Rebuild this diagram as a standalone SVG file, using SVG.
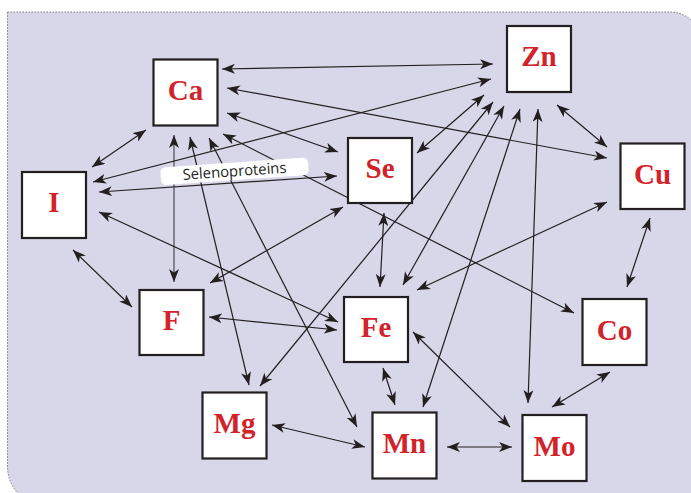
<svg xmlns="http://www.w3.org/2000/svg" width="691" height="493" viewBox="0 0 691 493">
<defs>
<marker id="ah" viewBox="0 0 13 10" refX="13" refY="5" markerWidth="13" markerHeight="10" markerUnits="userSpaceOnUse" orient="auto-start-reverse">
<path d="M0,0 L13,5 L0,10 L3.5,5 Z" fill="#231f20"/>
</marker>
<style>
.bg{fill:#d8d6e9;stroke:#7a7a80;stroke-width:1;stroke-dasharray:1.5 1.5}
.box{fill:#ffffff;stroke:#231f20;stroke-width:2.2}
.lbl{font-family:"Liberation Serif","Times New Roman",serif;font-weight:bold;font-size:29px;fill:#d2232a;text-anchor:middle}
.c line{stroke:#231f20;stroke-width:1.2;marker-start:url(#ah);marker-end:url(#ah)}
.c line.g{stroke:#6d6e71;stroke-width:1.6}
.tag{fill:#ffffff}
.tagt{font-family:"Open Sans","Liberation Sans",Arial,sans-serif;font-size:15px;fill:#231f20;text-anchor:middle}
</style>
</defs>
<path class="bg" d="M7.5,12 H670 A32,32 0 0 1 702,44 V505 H45.5 A38,38 0 0 1 7.5,467 Z"/>
<g id="connectors" class="c">
<line x1="222" y1="69" x2="493" y2="64"/>
<line x1="227" y1="88" x2="607" y2="158"/>
<line x1="227" y1="113" x2="338" y2="152"/>
<line x1="223" y1="134" x2="574" y2="313"/>
<line x1="209" y1="138" x2="357" y2="427"/>
<line x1="190" y1="137" x2="249" y2="385"/>
<line class="g" x1="174" y1="135" x2="174" y2="282"/>
<line x1="146" y1="130" x2="92" y2="167"/>
<line x1="93" y1="182" x2="491" y2="79"/>
<line x1="99" y1="192" x2="337" y2="176"/>
<line x1="99" y1="212" x2="338" y2="322"/>
<line x1="73" y1="250" x2="132" y2="307"/>
<line x1="210" y1="283" x2="343" y2="207"/>
<line x1="209" y1="317" x2="337" y2="330"/>
<line x1="384" y1="213" x2="380" y2="287"/>
<line x1="417" y1="153" x2="484" y2="95"/>
<line x1="260" y1="386" x2="493" y2="102"/>
<line x1="403" y1="285" x2="504" y2="106"/>
<line x1="423" y1="407" x2="520" y2="109"/>
<line x1="528" y1="403" x2="538" y2="109"/>
<line x1="607" y1="147" x2="557" y2="105"/>
<line x1="417" y1="290" x2="607" y2="202"/>
<line x1="650" y1="218" x2="627" y2="287"/>
<line x1="610" y1="372" x2="552" y2="407"/>
<line x1="413" y1="332" x2="510" y2="427"/>
<line x1="383" y1="368" x2="395" y2="405"/>
<line x1="272" y1="425" x2="365" y2="447"/>
<line x1="447" y1="447" x2="512" y2="447"/>
</g>
<g id="selenoproteins" transform="translate(234.5,171.3) rotate(-4)">
<rect class="tag" x="-74" y="-8.8" width="148" height="17.6" rx="5"/>
<text class="tagt" x="0" y="5" textLength="104" lengthAdjust="spacingAndGlyphs">Selenoproteins</text>
</g>
<g id="Ca"><rect class="box" x="153.5" y="59.5" width="64" height="66"/><text class="lbl" x="185.5" y="100">Ca</text></g>
<g id="Zn"><rect class="box" x="507" y="26" width="64" height="66"/><text class="lbl" x="539" y="66">Zn</text></g>
<g id="Se"><rect class="box" x="348" y="138" width="64" height="65"/><text class="lbl" x="380" y="178">Se</text></g>
<g id="Cu"><rect class="box" x="620.5" y="143.5" width="64" height="65.5"/><text class="lbl" x="652.5" y="183.5">Cu</text></g>
<g id="I"><rect class="box" x="22" y="172" width="64" height="66"/><text class="lbl" x="54" y="212">I</text></g>
<g id="F"><rect class="box" x="139.5" y="290" width="64" height="65"/><text class="lbl" x="171.5" y="330">F</text></g>
<g id="Fe"><rect class="box" x="344" y="297" width="64" height="65"/><text class="lbl" x="376" y="337">Fe</text></g>
<g id="Co"><rect class="box" x="582.5" y="299" width="64" height="66"/><text class="lbl" x="614.5" y="339.5">Co</text></g>
<g id="Mg"><rect class="box" x="202.5" y="392.5" width="64" height="66"/><text class="lbl" x="234.5" y="433">Mg</text></g>
<g id="Mn"><rect class="box" x="372.5" y="412.5" width="64" height="66"/><text class="lbl" x="404.5" y="453">Mn</text></g>
<g id="Mo"><rect class="box" x="522.5" y="415" width="64" height="66"/><text class="lbl" x="554.5" y="455.5">Mo</text></g>
</svg>
